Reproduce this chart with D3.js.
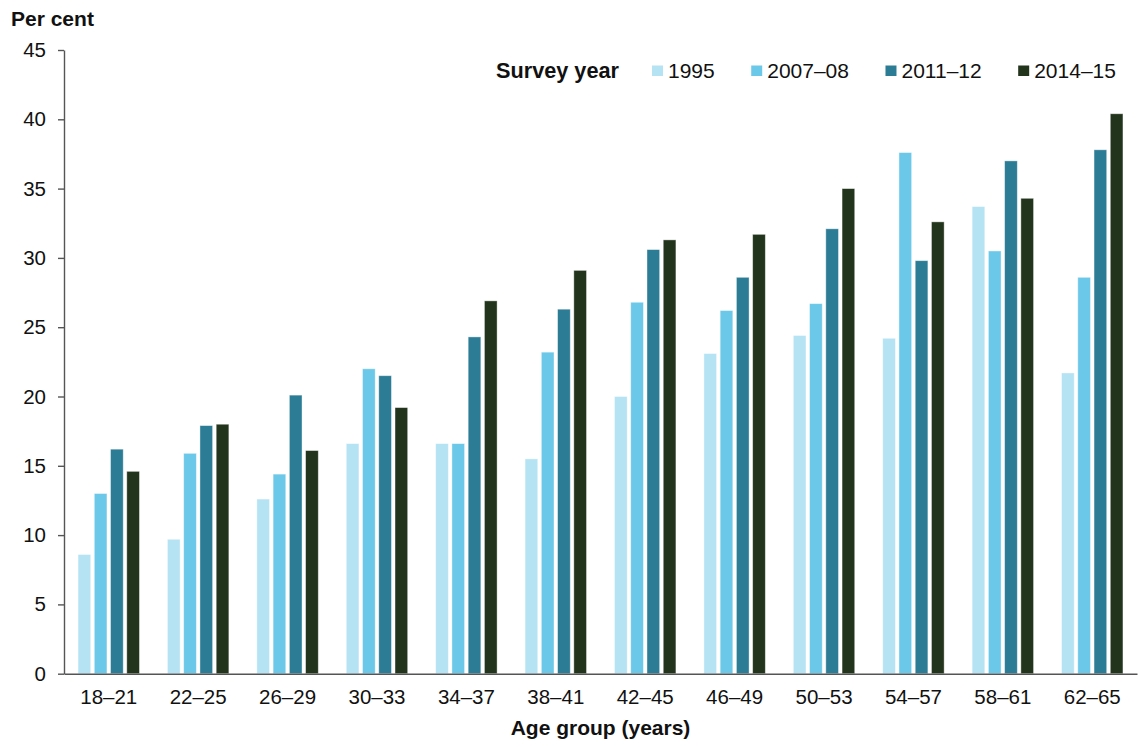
<!DOCTYPE html>
<html>
<head>
<meta charset="utf-8">
<script src="https://cdn.jsdelivr.net/npm/d3@7"></script>
<style>
  html, body { margin: 0; padding: 0; background: #fff; }
  svg { display: block; font-family: "Liberation Sans", Arial, sans-serif; }
</style>
</head>
<body>
<svg id="chart" width="1138" height="747"></svg>
<script>
const categories = ["18–21","22–25","26–29","30–33","34–37","38–41","42–45","46–49","50–53","54–57","58–61","62–65"];
const seriesNames = ["1995","2007–08","2011–12","2014–15"];
const s1995   = [8.6, 9.7, 12.6, 16.6, 16.6, 15.5, 20.0, 23.1, 24.4, 24.2, 33.7, 21.7];
const s200708 = [13.0, 15.9, 14.4, 22.0, 16.6, 23.2, 26.8, 26.2, 26.7, 37.6, 30.5, 28.6];
const s201112 = [16.2, 17.9, 20.1, 21.5, 24.3, 26.3, 30.6, 28.6, 32.1, 29.8, 37.0, 37.8];
const s201415 = [14.6, 18.0, 16.1, 19.2, 26.9, 29.1, 31.3, 31.7, 35.0, 32.6, 34.3, 40.4];
const yTicks = [0, 5, 10, 15, 20, 25, 30, 35, 40, 45];
const colors = ["#b5e3f4", "#6cc8e8", "#2c7c96", "#23341c"];

const seriesValues = [s1995, s200708, s201112, s201415];

const svg = d3.select("#chart");
const mLeft = 64, mRight = 1137, mTop = 50, mBottom = 673.7;

const x0 = d3.scaleBand().domain(categories).range([mLeft, mRight])
  .paddingInner(0.313).paddingOuter(0.157);
const x1 = d3.scaleBand().domain(seriesNames).range([0, x0.bandwidth()])
  .paddingInner(0.22).paddingOuter(0);
const y = d3.scaleLinear().domain([0, 45]).range([mBottom, mTop]);
const color = d3.scaleOrdinal().domain(seriesNames).range(colors);

// bars
const rows = categories.map((c, i) => ({
  cat: c,
  vals: seriesNames.map((s, j) => ({ key: s, value: seriesValues[j][i] }))
}));

svg.append("g").selectAll("g").data(rows).join("g")
  .attr("transform", d => `translate(${x0(d.cat)},0)`)
  .selectAll("rect").data(d => d.vals).join("rect")
  .attr("x", d => x1(d.key))
  .attr("y", d => y(d.value))
  .attr("width", x1.bandwidth())
  .attr("height", d => y(0) - y(d.value))
  .attr("fill", d => color(d.key))
  .attr("stroke", "#ffffff")
  .attr("stroke-opacity", 0.5)
  .attr("stroke-width", 0.8);

// y axis
const yAxis = svg.append("g")
  .attr("transform", `translate(${mLeft},0)`)
  .call(d3.axisLeft(y).tickValues(yTicks).tickSize(6).tickSizeOuter(0).tickPadding(12));
yAxis.selectAll("text").attr("font-size", 20.5).attr("fill", "#111").attr("font-family", "Liberation Sans, Arial, sans-serif");
yAxis.selectAll("line, path").attr("stroke", "#555").attr("stroke-width", 1.4);

// x axis
const xAxis = svg.append("g")
  .attr("transform", `translate(0,${mBottom})`)
  .call(d3.axisBottom(x0).tickSize(0).tickSizeOuter(0).tickPadding(16));
xAxis.selectAll("text").attr("font-size", 20.5).attr("fill", "#111").attr("font-family", "Liberation Sans, Arial, sans-serif");
xAxis.selectAll("path").attr("stroke", "#555").attr("stroke-width", 1.6);

// titles
svg.append("text").attr("x", 11).attr("y", 26)
  .attr("font-size", 21).attr("font-weight", "bold").attr("fill", "#111")
  .text("Per cent");
svg.append("text").attr("x", (mLeft + mRight) / 2).attr("y", 735)
  .attr("text-anchor", "middle")
  .attr("font-size", 21).attr("font-weight", "bold").attr("fill", "#111")
  .text("Age group (years)");

// legend
const legend = svg.append("g");
legend.append("text").attr("x", 496).attr("y", 78)
  .attr("font-size", 21.7).attr("font-weight", "bold").attr("fill", "#111")
  .text("Survey year");
let lx = 652;
seriesNames.forEach((s, i) => {
  legend.append("rect").attr("x", lx).attr("y", 65.5).attr("width", 11).attr("height", 10.5)
    .attr("fill", color(s));
  const t = legend.append("text").attr("x", lx + 16).attr("y", 77.5)
    .attr("font-size", 21).attr("fill", "#111").text(s);
  const w = t.node().getComputedTextLength();
  lx = lx + 16 + w + 36.5;
});
</script>
</body>
</html>
